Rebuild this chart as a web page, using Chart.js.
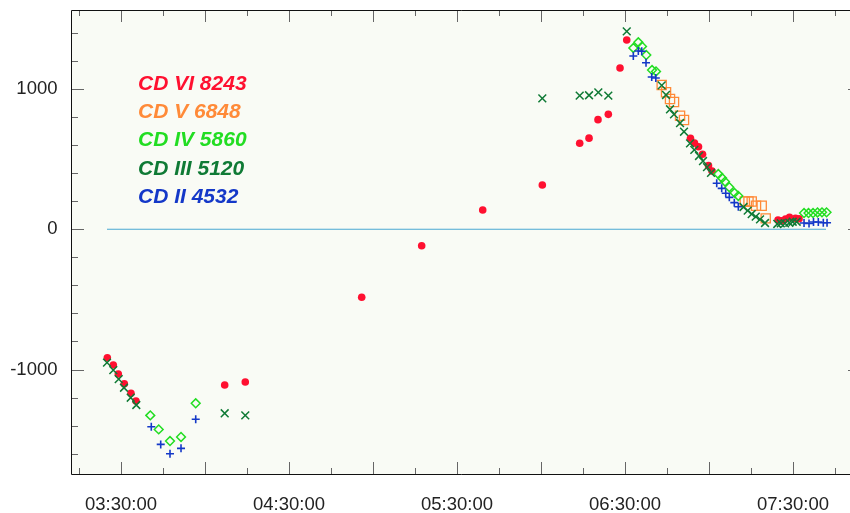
<!DOCTYPE html>
<html lang="en">
<head>
    <meta charset="UTF-8">
    <title>CD sensors</title>
    <script src="https://cdn.jsdelivr.net/npm/chart.js"></script>
    <style>
        body {
            margin: 0;
            background: #ffffff;
        }
        .chart-container {
            width: 850px;
            height: 513px;
        }
    </style>
</head>
<body>
    <div class="chart-container">
        <canvas id="cdChart"></canvas>
    </div>

    <script>
        // Series: times (hh:mm:ss) and values
        const vi8243Times = ['03:25:07', '03:27:15', '03:29:02', '03:31:11', '03:33:34', '03:35:21', '04:07:02', '04:14:23',
            '04:55:58', '05:17:23', '05:39:11', '06:00:28', '06:13:49', '06:17:09', '06:20:21', '06:24:02', '06:28:13', '06:30:37',
            '06:53:23', '06:54:49', '06:56:15', '06:57:41', '06:59:49', '07:01:04',
            '07:24:38', '07:25:53', '07:27:19', '07:28:45', '07:30:53', '07:32:09'];
        const vi8243Values = [-916, -968, -1032, -1102, -1170, -1225, -1110, -1089,
            -484, -117, 138, 316, 614, 650, 782, 820, 1150, 1350,
            649, 615, 589, 535, 454, 416,
            66, 61, 73, 85, 78, 75];

        const v6848Times = ['06:43:06', '06:44:39', '06:46:04', '06:47:30', '06:49:39', '06:51:04',
            '07:12:47', '07:14:06', '07:15:15', '07:16:47', '07:18:49', '07:20:15'];
        const v6848Values = [1029, 977, 929, 908, 810, 780, 198, 198, 198, 168, 168, 78];

        const iv5860Times = ['03:40:28', '03:43:28', '03:47:30', '03:51:26', '03:56:41',
            '06:32:58', '06:34:45', '06:36:04', '06:37:36', '06:39:39', '06:41:04',
            '07:03:19', '07:04:39', '07:05:43', '07:07:15', '07:09:06', '07:10:28',
            '07:33:56', '07:35:32', '07:37:09', '07:38:45', '07:40:21', '07:41:58'];
        const iv5860Values = [-1327, -1427, -1510, -1481, -1241,
            1293, 1334, 1304, 1243, 1136, 1126,
            394, 366, 340, 300, 260, 238,
            116, 116, 116, 120, 121, 121];

        const iii5120Times = ['03:25:00', '03:27:15', '03:29:11', '03:31:04', '03:33:28', '03:35:28', '04:07:02', '04:14:23',
            '06:00:28', '06:13:49', '06:17:09', '06:20:28', '06:24:02', '06:30:37',
            '06:43:06', '06:44:39', '06:46:04', '06:47:30', '06:49:39', '06:51:04', '06:53:13', '06:54:45',
            '06:56:26', '06:57:51', '06:59:17', '07:00:43',
            '07:12:19', '07:13:49', '07:15:15', '07:16:41', '07:18:13', '07:20:00',
            '07:24:23', '07:25:37', '07:27:09', '07:28:41', '07:29:53', '07:31:19'];
        const iii5120Values = [-951, -1004, -1068, -1130, -1201, -1253, -1312, -1327,
            934, 953, 956, 977, 953, 1411,
            1026, 958, 856, 820, 758, 696, 613, 566,
            523, 487, 444, 402,
            159, 133, 109, 90, 71, 45,
            38, 43, 43, 47, 54, 54];

        const ii4532Times = ['03:40:49', '03:44:11', '03:47:30', '03:51:26', '03:56:41',
            '06:32:58', '06:34:45', '06:35:58', '06:37:30', '06:39:32', '06:41:00',
            '07:02:45', '07:04:32', '07:05:58', '07:07:15', '07:09:02', '07:10:28',
            '07:33:56', '07:35:43', '07:37:19', '07:39:02', '07:40:49', '07:42:09'];
        const ii4532Values = [-1408, -1534, -1601, -1562, -1355,
            1236, 1272, 1270, 1188, 1086, 1079,
            328, 292, 257, 228, 190, 161,
            45, 41, 52, 52, 47, 47];

        const zeroTimes = ['03:25:00', '07:41:47'];
        const zeroValues = [0, 0];

        const legendNames = ['CD VI 8243', 'CD V 6848', 'CD IV 5860', 'CD III 5120', 'CD II 4532'];
        const legendColors = ['#ff1030', '#ff8a38', '#22dd22', '#0f7a35', '#1438c8'];

        const xTickTimes = ['03:15:00', '03:30:00', '03:45:00', '04:00:00', '04:15:00', '04:30:00', '04:45:00',
            '05:00:00', '05:15:00', '05:30:00', '05:45:00', '06:00:00', '06:15:00', '06:30:00', '06:45:00',
            '07:00:00', '07:15:00', '07:30:00', '07:45:00'];
        const xLabelTimes = ['03:30:00', '04:30:00', '05:30:00', '06:30:00', '07:30:00'];
        const yTickValues = [-1600, -1400, -1200, -1000, -800, -600, -400, -200, 0, 200, 400, 600, 800, 1000, 1200, 1400];
        const yLabelValues = [-1000, 0, 1000];

        function toSec(s) {
            const p = s.split(':').map(Number);
            return p[0] * 3600 + p[1] * 60 + p[2];
        }

        function points(times, values) {
            return times.map((t, i) => ({ x: toSec(t), y: values[i] }));
        }

        const labelFont = { family: '"Liberation Sans", Arial, sans-serif', size: 18.5 };

        // plot background, frame and inward tick marks
        const framePlugin = {
            id: 'frame',
            beforeDraw(chart) {
                const { ctx, chartArea: a } = chart;
                ctx.save();
                ctx.fillStyle = '#f9fbf5';
                ctx.fillRect(a.left, a.top, a.right - a.left, a.bottom - a.top);
                ctx.restore();
            },
            beforeDatasetsDraw(chart) {
                const { ctx, chartArea: a, scales } = chart;
                ctx.save();
                ctx.strokeStyle = '#666';
                ctx.lineWidth = 1;
                ctx.beginPath();
                xTickTimes.forEach(t => {
                    const v = toSec(t);
                    const px = Math.round(scales.x.getPixelForValue(v)) + 0.5;
                    const len = v % 1800 === 0 ? 12 : 6;
                    ctx.moveTo(px, a.bottom);
                    ctx.lineTo(px, a.bottom - len);
                    ctx.moveTo(px, a.top);
                    ctx.lineTo(px, a.top + len);
                });
                yTickValues.forEach(v => {
                    const py = Math.round(scales.y.getPixelForValue(v)) + 0.5;
                    const major = v % 1000 === 0;
                    ctx.moveTo(a.left, py);
                    ctx.lineTo(a.left + (major ? 12 : 6), py);
                    if (major) {
                        ctx.moveTo(a.right + 2, py);
                        ctx.lineTo(a.right - 2, py);
                    }
                });
                ctx.stroke();
                // frame: top, left, bottom (right edge falls outside the picture)
                ctx.strokeStyle = '#111';
                ctx.beginPath();
                ctx.moveTo(a.right + 2, a.top + 0.5);
                ctx.lineTo(a.left - 0.5, a.top + 0.5);
                ctx.lineTo(a.left - 0.5, a.bottom + 0.5);
                ctx.lineTo(a.right + 2, a.bottom + 0.5);
                ctx.stroke();
                ctx.restore();
            },
            afterDraw(chart) {
                const ctx = chart.ctx;
                ctx.save();
                ctx.font = 'italic bold 21px "Liberation Sans", Arial, sans-serif';
                ctx.textBaseline = 'alphabetic';
                legendNames.forEach((name, i) => {
                    ctx.fillStyle = legendColors[i];
                    ctx.fillText(name, 138, 89.5 + i * 28.4);
                });
                ctx.restore();
            }
        };

        const ctx = document.getElementById('cdChart').getContext('2d');
        new Chart(ctx, {
            type: 'scatter',
            data: {
                datasets: [
                    {
                        label: 'CD III 5120',
                        data: points(iii5120Times, iii5120Values),
                        pointStyle: 'crossRot',
                        pointRadius: 5.5,
                        borderColor: legendColors[3],
                        borderWidth: 1.5
                    },
                    {
                        label: 'CD II 4532',
                        data: points(ii4532Times, ii4532Values),
                        pointStyle: 'cross',
                        pointRadius: 4,
                        borderColor: legendColors[4],
                        borderWidth: 1.6
                    },
                    {
                        label: 'CD IV 5860',
                        data: points(iv5860Times, iv5860Values),
                        pointStyle: 'rectRot',
                        pointRadius: 4.4,
                        backgroundColor: 'rgba(0,0,0,0)',
                        borderColor: legendColors[2],
                        borderWidth: 1.5
                    },
                    {
                        label: 'CD V 6848',
                        data: points(v6848Times, v6848Values),
                        pointStyle: 'rect',
                        pointRadius: 6.5,
                        backgroundColor: 'rgba(0,0,0,0)',
                        borderColor: legendColors[1],
                        borderWidth: 1.3
                    },
                    {
                        label: 'CD VI 8243',
                        data: points(vi8243Times, vi8243Values),
                        pointStyle: 'circle',
                        pointRadius: 3.8,
                        backgroundColor: legendColors[0],
                        borderWidth: 0
                    },
                    {
                        label: 'zero',
                        data: points(zeroTimes, zeroValues),
                        showLine: true,
                        pointRadius: 0,
                        borderColor: '#4aa8d2',
                        borderWidth: 1.1
                    }
                ]
            },
            options: {
                responsive: true,
                maintainAspectRatio: false,
                animation: false,
                layout: { autoPadding: false, padding: { top: 10, right: 0, left: 0, bottom: 0 } },
                plugins: {
                    legend: { display: false },
                    tooltip: { enabled: false }
                },
                scales: {
                    x: {
                        type: 'linear',
                        min: toSec('03:12:30'),
                        max: toSec('07:50:21'),
                        grid: { display: false, drawTicks: false },
                        border: { display: false },
                        afterBuildTicks: scale => {
                            scale.ticks = xTickTimes.map(t => ({ value: toSec(t) }));
                        },
                        afterFit: scale => {
                            scale.height = 39;
                            scale.paddingLeft = 0;
                            scale.paddingRight = 0;
                        },
                        ticks: {
                            autoSkip: false,
                            maxRotation: 0,
                            padding: 20,
                            color: '#222',
                            font: labelFont,
                            callback: v => {
                                const hit = xLabelTimes.find(t => toSec(t) === v);
                                return hit || '';
                            }
                        }
                    },
                    y: {
                        min: -1745,
                        max: 1564,
                        grid: { display: false, drawTicks: false },
                        border: { display: false },
                        afterBuildTicks: scale => {
                            scale.ticks = yTickValues.map(v => ({ value: v }));
                        },
                        afterFit: scale => {
                            scale.width = 72;
                            scale.paddingTop = 0;
                            scale.paddingBottom = 0;
                        },
                        ticks: {
                            autoSkip: false,
                            padding: 14.5,
                            color: '#222',
                            font: labelFont,
                            callback: v => yLabelValues.includes(v) ? String(v) : ''
                        }
                    }
                }
            },
            plugins: [framePlugin]
        });
    </script>
</body>
</html>
